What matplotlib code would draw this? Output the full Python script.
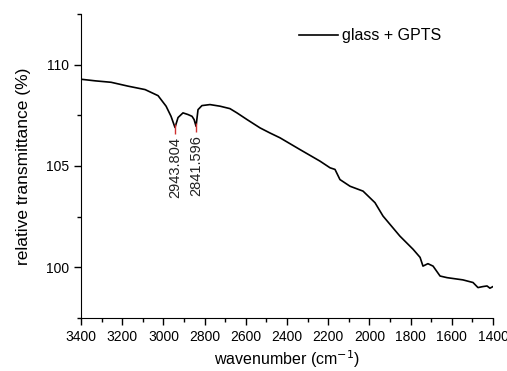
import matplotlib
matplotlib.use("Agg")
import matplotlib.pyplot as plt
from matplotlib.ticker import MultipleLocator

plt.rcParams['font.family'] = ['Liberation Sans', 'DejaVu Sans']

# FTIR spectrum, glass + GPTS
wavenumber = [3400, 3330, 3254, 3172, 3089, 3026, 2987, 2963, 2943.804, 2929, 2905,
              2881, 2861, 2851, 2841.596, 2832, 2813, 2774, 2725, 2677, 2643,
              2594, 2531, 2483, 2434, 2337, 2240, 2191, 2167, 2143, 2094, 2031,
              1973, 1934, 1852, 1788, 1754, 1740, 1716, 1691, 1657, 1623, 1546,
              1497, 1473, 1449, 1429, 1415, 1400]
transmittance = [109.28, 109.2, 109.13, 108.94, 108.77, 108.47, 107.95, 107.45, 106.9, 107.39, 107.62,
                 107.54, 107.45, 107.29, 106.96, 107.78, 107.98, 108.03, 107.95, 107.83, 107.62,
                 107.29, 106.88, 106.63, 106.39, 105.81, 105.24, 104.91, 104.83, 104.33, 104.0, 103.76,
                 103.19, 102.53, 101.54, 100.89, 100.49, 100.06, 100.18, 100.06, 99.57, 99.49, 99.38,
                 99.25, 99.0, 99.05, 99.08, 98.97, 99.05]

peaks = [2943.804, 2841.596]
peak_y = [106.9, 106.96]

fig = plt.figure(figsize=(5.07, 3.71), dpi=100)
ax = fig.add_axes([0.1598, 0.1429, 0.9724 - 0.1598, 0.9623 - 0.1429])

ax.plot(wavenumber, transmittance, color='black', lw=1.2, label='glass + GPTS')

for x, y in zip(peaks, peak_y):
    ax.vlines(x, y - 0.3, y + 0.15, color='#d03030', lw=1)
    ax.text(x, y - 0.45, f"{x:.3f}", rotation=90, ha='center', va='top',
            fontsize=10.5, color='#222222')

ax.set_xlim(3400, 1400)
ax.set_ylim(97.5, 112.5)
ax.xaxis.set_major_locator(MultipleLocator(200))
ax.xaxis.set_minor_locator(MultipleLocator(100))
ax.yaxis.set_major_locator(MultipleLocator(5))
ax.yaxis.set_minor_locator(MultipleLocator(2.5))

for s in ['top', 'right']:
    ax.spines[s].set_visible(False)
ax.tick_params(which='major', direction='out', length=5, width=1, labelsize=10)
ax.tick_params(which='minor', direction='out', length=3, width=1)

ax.set_xlabel('wavenumber (cm$^{-1}$)', fontsize=11.5, labelpad=3)
ax.set_ylabel('relative transmittance (%)', fontsize=12.5, labelpad=11)

ax.legend(loc='upper right', bbox_to_anchor=(0.91, 1.0), frameon=False,
          fontsize=11.5, handlelength=2.4, handletextpad=0.3)

fig.savefig('out.png', dpi=100)
